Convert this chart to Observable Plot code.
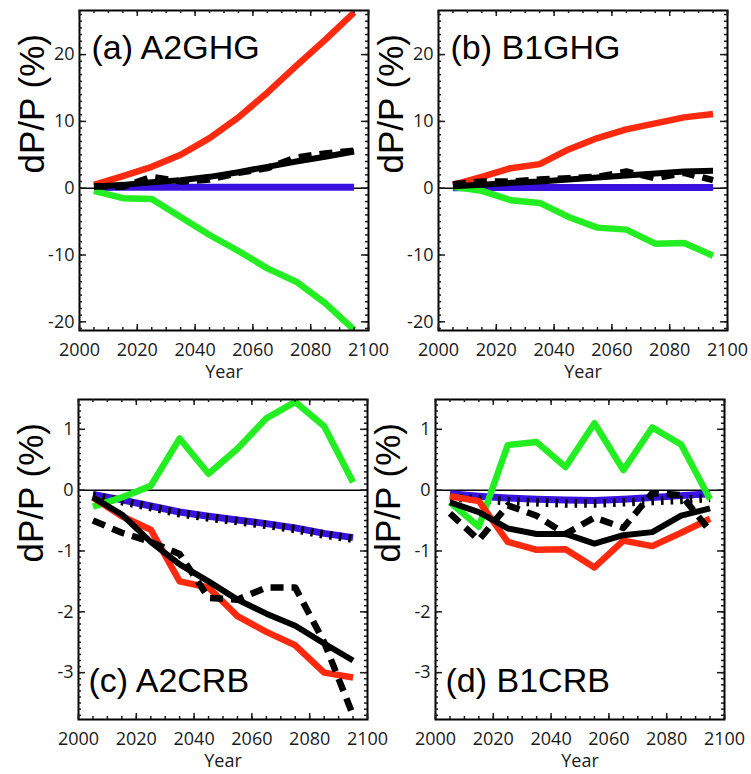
<!DOCTYPE html>
<html>
<head>
<meta charset="utf-8">
<script src="https://cdn.jsdelivr.net/npm/d3@7"></script>
<script src="https://cdn.jsdelivr.net/npm/@observablehq/plot@0.6"></script>
<style>
  html, body { margin: 0; padding: 0; background: #fff; }
  #wrap { position: relative; width: 751px; height: 774px; overflow: hidden; background: #fff; }
  .panel { position: absolute; }
</style>
</head>
<body>
<div id="wrap"></div>
<script>
// ---------- data ----------
const years = [2005, 2015, 2025, 2035, 2045, 2055, 2065, 2075, 2085, 2095];
const xTicks = [2000, 2020, 2040, 2060, 2080, 2100];
const yTicksGHG = [-20, -10, 0, 10, 20];
const yTicksCRB = [-3, -2, -1, 0, 1];
const titles = ["(a) A2GHG", "(b) B1GHG", "(c) A2CRB", "(d) B1CRB"];
const yLabel = "dP/P (%)";
const xLabel = "Year";

// (a) A2GHG
const aRed    = [0.5, 1.8, 3.2, 5.0, 7.5, 10.6, 14.3, 18.3, 22.2, 26.3];
const aGreen  = [-0.4, -1.5, -1.6, -4.3, -7.0, -9.4, -12.0, -14.0, -17.2, -21.2];
const aBlue   = [0.1, 0.15, 0.15, 0.15, 0.15, 0.15, 0.15, 0.15, 0.15, 0.15];
const aBlack  = [0.2, 0.5, 0.9, 1.2, 1.7, 2.4, 3.2, 4.0, 4.7, 5.5];
const aDashed = [0.3, 0.2, 1.7, 1.0, 1.3, 2.3, 3.0, 4.6, 5.2, 5.6];

// (b) B1GHG
const bRed    = [0.5, 1.7, 3.0, 3.6, 5.8, 7.5, 8.8, 9.7, 10.6, 11.1];
const bGreen  = [0.2, -0.4, -1.8, -2.2, -4.3, -5.9, -6.2, -8.3, -8.2, -10.1];
const bBlue   = [0.05, 0.1, 0.1, 0.1, 0.1, 0.1, 0.1, 0.1, 0.1, 0.1];
const bBlack  = [0.3, 0.5, 0.8, 1.0, 1.3, 1.6, 1.9, 2.2, 2.5, 2.6];
const bDashed = [0.6, 1.0, 1.0, 1.3, 1.5, 1.7, 2.5, 1.5, 2.3, 1.2];

// (c) A2CRB
const cRed    = [-0.12, -0.43, -0.65, -1.5, -1.6, -2.07, -2.33, -2.55, -3.0, -3.08];
const cGreen  = [-0.27, -0.12, 0.07, 0.85, 0.27, 0.68, 1.18, 1.45, 1.05, 0.13];
const cBlue   = [-0.07, -0.16, -0.26, -0.36, -0.43, -0.49, -0.55, -0.62, -0.71, -0.78];
const cDotted = [-0.09, -0.18, -0.28, -0.38, -0.45, -0.51, -0.57, -0.64, -0.73, -0.8];
const cBlack  = [-0.12, -0.4, -0.85, -1.22, -1.5, -1.8, -2.03, -2.23, -2.52, -2.8];
const cDashed = [-0.5, -0.7, -0.85, -1.05, -1.77, -1.8, -1.6, -1.6, -2.5, -3.7];

// (d) B1CRB
const dRed    = [-0.1, -0.18, -0.85, -0.98, -0.97, -1.27, -0.83, -0.92, -0.7, -0.47];
const dGreen  = [-0.2, -0.6, 0.74, 0.79, 0.38, 1.1, 0.33, 1.03, 0.75, -0.15];
const dBlue   = [-0.06, -0.1, -0.13, -0.15, -0.16, -0.17, -0.15, -0.12, -0.09, -0.06];
const dDotted = [-0.12, -0.15, -0.18, -0.2, -0.22, -0.22, -0.2, -0.18, -0.16, -0.13];
const dBlack  = [-0.2, -0.36, -0.63, -0.72, -0.72, -0.88, -0.74, -0.69, -0.42, -0.3];
const dDashed = [-0.38, -0.82, -0.25, -0.42, -0.72, -0.45, -0.62, -0.05, -0.08, -0.67];

// ---------- styling ----------
const RED = "#fe2a10", GREEN = "#22ee22", BLUE = "#3a12e0";
const W = 375, H = 385, ML = 79, MR = 7, MT = 10, MB = 55;
const FW = W - ML - MR, FH = H - MT - MB;
const tickFont = "Open Sans, Liberation Sans, sans-serif";
const titleFont = "Liberation Sans, Arial, sans-serif";

function rows(arr) { return years.map((x, i) => ({x, y: arr[i]})); }

function panel(cfg) {
  const lineOpts = (stroke, extra = {}) => ({x: "x", y: "y", stroke, strokeWidth: 6.5, curve: "linear", strokeLinejoin: "round", strokeLinecap: "butt", clip: true, ...extra});
  const marks = [
    Plot.ruleY([0], {strokeWidth: 1.5, stroke: "#000"}),
    Plot.line(rows(cfg.blue), lineOpts(BLUE, {strokeWidth: 7})),
  ];
  if (cfg.dotted) marks.push(Plot.line(rows(cfg.dotted), lineOpts("#000", {strokeWidth: 8.5, strokeDasharray: "2.6,7"})));
  marks.push(
    Plot.line(rows(cfg.green), lineOpts(GREEN)),
    Plot.line(rows(cfg.red), lineOpts(RED)),
    Plot.line(rows(cfg.black), lineOpts("#000", {strokeWidth: 6})),
    Plot.line(rows(cfg.dashed), lineOpts("#000", {strokeWidth: 6.5, strokeDasharray: "13,8"})),
    Plot.frame({stroke: "#000", strokeWidth: 2}),
    // x ticks (inward) bottom and top
    Plot.tickX(d3.range(2000, 2101, 5), {x: d => d, insetTop: FH - 3, strokeWidth: 1.5}),
    Plot.tickX(d3.range(2000, 2101, 5), {x: d => d, insetBottom: FH - 3, strokeWidth: 1.5}),
    Plot.tickX(xTicks, {x: d => d, insetTop: FH - 6, strokeWidth: 1.5}),
    Plot.tickX(xTicks, {x: d => d, insetBottom: FH - 6, strokeWidth: 1.5}),
    // y ticks (inward) left and right
    Plot.tickY(cfg.minor, {y: d => d, insetRight: FW - 3, strokeWidth: 1.5}),
    Plot.tickY(cfg.minor, {y: d => d, insetLeft: FW - 3, strokeWidth: 1.5}),
    Plot.tickY(cfg.yTicks, {y: d => d, insetRight: FW - 7, strokeWidth: 1.5}),
    Plot.tickY(cfg.yTicks, {y: d => d, insetLeft: FW - 7, strokeWidth: 1.5}),
    Plot.axisX({ticks: xTicks, tickSize: 0, tickPadding: 13, tickFormat: d => String(d), fontSize: 18, fontFamily: tickFont, label: null}),
    Plot.axisY({ticks: cfg.yTicks, tickSize: 0, tickPadding: 5, tickFormat: d => String(d), fontSize: 18, fontFamily: tickFont, label: null}),
    Plot.text([xLabel], {text: d => d, frameAnchor: "bottom", lineAnchor: "top", dy: 35, fontSize: 18, fontFamily: tickFont, fill: "#1a1a1a"}),
    Plot.text([yLabel], {text: d => d, frameAnchor: "left", rotate: -90, dx: -47, dy: 3, lineAnchor: "middle", fontSize: 35, fontFamily: titleFont, fill: "#000"}),
    cfg.titleBottom
      ? Plot.text([cfg.title], {text: d => d, frameAnchor: "bottom-left", textAnchor: "start", lineAnchor: "top", dx: 10, dy: -52, fontSize: 34, fontFamily: titleFont, fill: "#000"})
      : Plot.text([cfg.title], {text: d => d, frameAnchor: "top-left", textAnchor: "start", lineAnchor: "top", dx: 12, dy: 24, fontSize: 34, fontFamily: titleFont, fill: "#000"})
  );
  return Plot.plot({
    width: W, height: H,
    marginLeft: ML, marginRight: MR, marginTop: MT, marginBottom: MB,
    x: {domain: [2000, 2100]},
    y: {domain: cfg.yDomain},
    style: {background: "transparent", color: "#1a1a1a", fontFamily: tickFont, overflow: "visible"},
    marks
  });
}

const minorGHG = d3.range(-21, 27, 1);
const minorCRB = d3.range(-37, 15, 1).map(v => v / 10);

const panels = [
  {left: 0, top: 0, cfg: {red: aRed, green: aGreen, blue: aBlue, black: aBlack, dashed: aDashed, yDomain: [-21.3, 26.6], yTicks: yTicksGHG, minor: minorGHG, title: titles[0]}},
  {left: 359, top: 0, cfg: {red: bRed, green: bGreen, blue: bBlue, black: bBlack, dashed: bDashed, yDomain: [-21.3, 26.6], yTicks: yTicksGHG, minor: minorGHG, title: titles[1]}},
  {left: -1, top: 389, cfg: {red: cRed, green: cGreen, blue: cBlue, dotted: cDotted, black: cBlack, dashed: cDashed, yDomain: [-3.77, 1.49], yTicks: yTicksCRB, minor: minorCRB, title: titles[2], titleBottom: true}},
  {left: 356, top: 389, cfg: {red: dRed, green: dGreen, blue: dBlue, dotted: dDotted, black: dBlack, dashed: dDashed, yDomain: [-3.77, 1.49], yTicks: yTicksCRB, minor: minorCRB, title: titles[3], titleBottom: true}}
];

const wrap = document.getElementById("wrap");
for (const p of panels) {
  const div = document.createElement("div");
  div.className = "panel";
  div.style.left = p.left + "px";
  div.style.top = p.top + "px";
  div.appendChild(panel(p.cfg));
  wrap.appendChild(div);
}
</script>
</body>
</html>
